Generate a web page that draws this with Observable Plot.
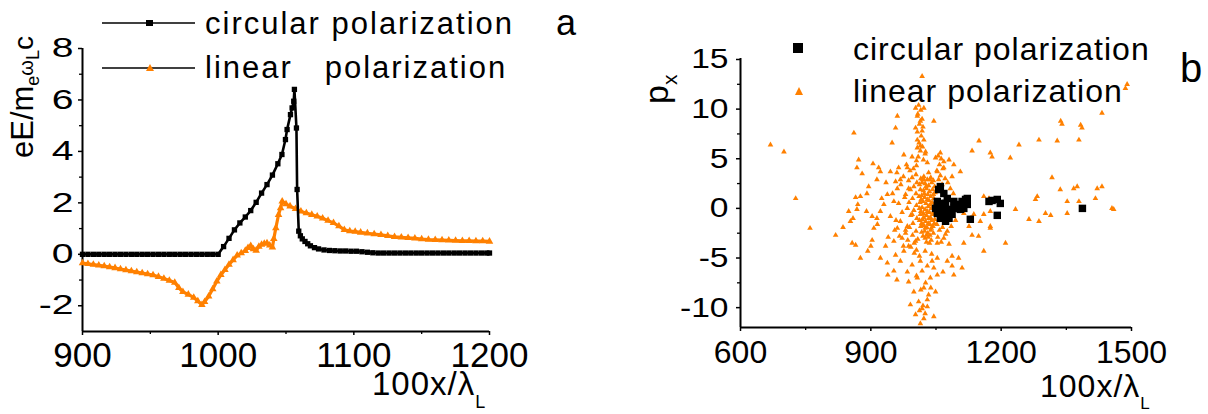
<!DOCTYPE html>
<html>
<head>
<meta charset="utf-8">
<script src="https://cdn.jsdelivr.net/npm/d3@7"></script>
<script src="https://cdn.jsdelivr.net/npm/@observablehq/plot@0.6"></script>
<style>
  body { margin: 0; background: #fff; }
  #wrap { position: relative; width: 1208px; height: 414px; overflow: hidden; font-family: "Liberation Sans", Arial, sans-serif; }
  #wrap svg.pl { position: absolute; top: 0; }
  #ann { position: absolute; left: 0; top: 0; pointer-events: none; }
</style>
</head>
<body>
<div id="wrap"></div>
<script>
// ---------- Panel a: field profiles ----------
const leftXDomain = [900, 1200];
const leftYDomain = [-3, 8];
const leftXTicks = [900, 1000, 1100, 1200];
const leftXMinor = [950, 1050, 1150];
const leftYTicks = [-2, 0, 2, 4, 6, 8];
const leftYMinor = [-1, 1, 3, 5, 7];

const circX = [900,904,908,912,916,920,924,928,932,936,940,944,948,952,956,960,964,968,972,976,980,984,988,992,996,1000,
  1004,1008,1012,1016,1020,1024,1028,1032,1036,1040,1044,1047,1049.6,1050.8,1053.3,1054.5,1055.7,1056.2,1057.7,1058.2,1059.4,1060.6,
  1062,1064,1066,1068,1071,1074,1078,1082,1086,1090,1094,1098,1102,1106,1110,1114,1118,
  1122,1126,1130,1134,1138,1142,1146,1150,1154,1158,1162,1166,1170,1174,1178,1182,1186,1190,1194,1198,1200];
const circY = [0,0,0,0,0,0,0,0,0,0,0,0,0,0,0,0,0,0,0,0,0,0,0,0,0,0,
  0.3,0.62,0.95,1.22,1.45,1.7,2.02,2.38,2.71,3.08,3.52,3.88,4.46,4.85,5.43,5.69,5.95,6.41,4.91,2.52,0.9,0.72,
  0.6,0.5,0.41,0.33,0.26,0.21,0.17,0.15,0.14,0.13,0.13,0.12,0.12,0.1,0.08,0.06,0.05,
  0.05,0.05,0.05,0.05,0.05,0.05,0.05,0.05,0.05,0.05,0.05,0.05,0.05,0.05,0.05,0.05,0.05,0.05,0.05,0.05,0.05];

const linX = [900,904,908,912,916,920,924,928,932,936,940,944,948,952,956,960,964,968,971,974,978,982,985,988,990,993,996,999,
  1002,1005,1008,1011,1014,1017,1020,1022,1024,1026,1028,1030,1032,1034,1036,1038,1040,1041,1042.5,1044.5,1046,1047.2,
  1050,1053,1057,1061,1065,1069,1073,1077,1081,1085,1089,1093,1097,1101,1105,1110,1115,1120,1125,1130,1135,1140,1145,1150,
  1155,1160,1165,1170,1175,1180,1185,1190,1195,1200];
const linY = [-0.34,-0.37,-0.4,-0.43,-0.46,-0.5,-0.53,-0.57,-0.61,-0.65,-0.69,-0.73,-0.77,-0.81,-0.87,-0.94,-1.02,-1.1,-1.3,-1.46,-1.56,-1.68,-1.82,-1.96,-1.85,-1.63,-1.35,-1.05,
  -0.8,-0.6,-0.4,-0.22,-0.04,0.05,0.14,0.25,0.33,0.2,0.15,0.3,0.38,0.42,0.44,0.35,0.27,0.6,1.02,1.54,1.8,2.06,
  1.95,1.87,1.77,1.67,1.6,1.54,1.48,1.4,1.31,1.22,1.1,0.95,0.9,0.88,0.85,0.82,0.79,0.76,0.72,0.68,0.66,0.64,0.62,0.59,
  0.57,0.56,0.55,0.54,0.53,0.52,0.52,0.51,0.51,0.5];

// ---------- Panel b: phase space scatter ----------
const rightXDomain = [600, 1500];
const rightYDomain = [-12, 15.1];
const rightXTicks = [600, 900, 1200, 1500];
const rightXMinor = [750, 1050, 1350];
const rightYTicks = [-10, -5, 0, 5, 10, 15];
const rightYMinor = [-7.5, -2.5, 2.5, 7.5, 12.5];

const scatterLinear = [
  [734,11.6],[700,5.7],[669,6.4],[727,1.0],[760,-2.0],[861,7.6],[872,4.9],[868,4.1],[865,1.1],[819,-2.7],[836,-1.9],[853,-1.3],
  [849,-0.3],[859,-1.0],[857,-3.5],[865,-3.7],[876,-5.0],[893,-4.3],[903,-3.2],[907,-2.0],[922,-0.3],[934,-3.8],[922,-5.0],
  [938,-5.5],[953,-6.3],[939,-6.7],[960,-7.2],[984,-6.4],[987,-7.4],[999,-8.4],[1010,-9.4],[1018,-10.1],[1030,-9.9],[1022,-11.1],
  [1014,-11.6],[991,-9.7],[1003,-10.7],[1045,-10.9],[1033,-8.7],[1049,-8.4],[1022,-8.0],[1007,-7.0],[1037,-7.0],[1053,-6.7],
  [1066,-6.4],[1087,-5.8],[1091,-6.7],[1110,-6.0],[1102,-5.0],[1087,-4.8],[1076,-5.3],[1053,-5.0],[1041,-5.3],[1014,-5.3],
  [995,-5.7],[968,-5.3],[957,-4.7],[976,-4.3],[953,-3.3],[972,-3.0],[987,-3.8],[980,-2.5],[1003,-3.3],[1053,-3.5],[1068,-3.0],
  [1114,-3.5],[1133,-2.7],[1148,-2.8],[1160,-4.3],[1175,-2.0],[1114,-0.5],[1129,-1.0],[1076,-2.3],[1126,-1.8],[1137,-0.6],
  [1018,13.3],[1003,10.1],[1007,9.3],[1014,8.8],[1003,8.1],[1018,7.8],[1007,6.9],[1014,6.3],[1007,6.1],[1026,5.7],[961,9.3],
  [957,8.1],[949,6.6],[976,5.4],[1045,8.8],[1022,10.1],[995,5.2],[1049,5.1],[1060,5.6],[1068,4.7],[1080,4.9],[1091,4.4],
  [1106,3.7],[1087,3.2],[1068,4.1],[1053,3.7],[1033,3.6],[1022,2.9],[984,4.1],[964,4.1],[945,3.7],[918,4.1],[914,2.9],[922,3.7],
  [876,1.2],[891,1.5],[868,-0.1],[903,-0.8],[914,-1.0],[938,1.4],[930,0.4],[953,0.7],[961,2.0],[968,2.9],[957,2.7],[980,1.4],
  [984,0.0],[987,2.0],[995,-0.6],[968,-1.3],[961,-2.0],[984,-1.8],
  [1133,5.8],[1149,6.8],[1179,5.2],[1175,5.6],[1221,5.1],[1241,6.4],[1287,6.9],[1329,6.8],[1337,8.8],[1340,8.5],[1379,6.9],
  [1383,8.4],[1386,8.1],[1432,9.6],[1490,12.5],[1486,12.1],[1317,3.1],[1336,1.9],[1367,2.0],[1375,2.2],[1421,2.0],[1432,2.2],
  [1283,1.2],[1279,0.9],[1352,0.7],[1379,0.7],[1417,1.0],[1455,0.0],[1459,-0.1],[1233,-0.1],[1264,-1.1],[1287,-1.3],[1302,-0.5],
  [1314,-0.7],[1352,-0.5],[1160,1.2],[1172,1.0],[1175,-0.3],[1152,-1.3],[1175,-1.8],[1210,-3.5],[1160,-0.6],
  [1015,3.0],[1022,3.2],[1030,2.9],[1038,3.1],[1044,2.8],[1012,2.4],[1018,2.6],[1025,2.5],[1033,2.3],[1040,2.6],[1047,2.2],
  [1014,1.9],[1021,1.8],[1028,2.0],[1035,1.7],[1042,1.9],[1048,1.6],[1011,1.2],[1017,1.3],[1024,1.1],[1031,1.4],[1038,1.2],
  [1045,1.0],[1013,0.6],[1020,0.7],[1027,0.5],[1034,0.8],[1041,0.6],[1047,0.4],[1012,0.0],[1018,0.1],[1025,-0.1],[1032,0.2],
  [1039,0.0],[1046,-0.2],[1014,-0.6],[1021,-0.5],[1028,-0.7],[1035,-0.4],[1042,-0.6],[1012,-1.2],[1019,-1.1],[1026,-1.3],
  [1033,-1.0],[1040,-1.2],[1047,-1.1],[1015,-1.8],[1022,-1.7],[1029,-1.9],[1036,-1.6],[1043,-1.8],[1017,-2.4],[1024,-2.3],
  [1031,-2.5],[1038,-2.2],[1044,-2.5],[1025,-3.0],[1032,-2.9],[1039,-3.2],[1035,-3.5],[1028,-3.4],
  [1019,2.9],[1027,2.2],[1036,2.9],[1016,0.9],[1023,1.5],[1030,0.9],[1037,0.4],[1044,1.4],[1015,-0.3],[1022,-0.9],[1030,-0.3],
  [1037,-0.9],[1044,-0.4],[1017,-1.5],[1025,-2.0],[1032,-1.5],[1039,-2.0],[1046,-1.5],[1020,-2.8],[1028,-2.7],[1036,-2.7],
  [1005,4.3],[998,4.0],[990,3.8],[1004,3.4],[995,3.1],[987,2.8],[1006,2.6],[999,2.2],[991,1.9],[1004,1.5],[996,1.0],[988,0.6],
  [1005,0.3],[999,-0.2],[992,-0.7],[1006,-1.0],[997,-1.5],[989,-1.9],[1004,-2.3],[996,-2.7],[1008,-3.1],[1000,-3.5],[992,-3.9],
  [1005,-4.2],[975,3.2],[969,2.4],[978,1.1],[964,0.5],[972,-0.4],[958,-1.2],[980,-2.2],[966,-2.8],[985,-3.2],[975,-3.8],
  [950,1.5],[945,-0.8],[960,3.6],[982,4.4],[955,-2.2],
  [1010,10.4],[1015,9.9],[1008,9.5],[1018,9.0],[1012,8.5],[1020,8.2],[1007,7.7],[1016,7.3],[1022,6.9],[1011,6.6],[1019,6.2],
  [1014,5.8],[1025,5.5],[1009,5.2],[1021,4.9],[1030,4.6],[1005,4.8],
  [1055,5.3],[1062,5.0],[1058,4.4],[1066,4.0],[1052,3.8],[1060,3.3],[1071,3.0],[1056,2.9],[1077,2.6],[1064,2.4],[1083,2.0],
  [1052,-1.6],[1058,-2.2],[1065,-1.9],[1072,-2.6],[1054,-2.9],[1080,-3.6],[1062,-3.4],[1090,1.5],[1085,-1.8],[1095,-1.2],
  [1000,-4.5],[1012,-4.8],[1025,-4.3],[1040,-4.6],[1030,-5.8],[1018,-6.3],[1045,-6.0],[1005,-6.8],[1026,-7.5],[1015,-8.2],
  [1038,-8.0],[1030,-9.2],[1020,-9.8],[1012,-10.3],[1025,-10.6],
  [880,3.5],[895,2.2],[905,4.5],[925,1.0],[935,2.6],[870,0.4],[890,-0.3],[915,-1.6],[940,-2.9],[900,-3.8]
];

const scatterCircular = [
  [1060,2.2],[1056,1.9],[1068,1.5],[1053,0.7],[1060,0.0],[1049,0.0],[1072,0.5],[1076,-0.1],[1083,-0.5],[1068,-0.6],
  [1080,-1.0],[1060,-1.0],[1072,-1.3],[1064,0.5],[1053,-0.5],[1091,0.7],[1091,0.0],[1099,0.4],[1110,0.7],[1118,0.9],
  [1122,0.4],[1114,0.0],[1122,1.0],[1106,-0.1],[1129,-1.1],[1172,0.7],[1179,0.8],[1191,0.9],[1198,0.5],[1191,-0.7],
  [1387,0.0],[1087,-0.6],[1076,1.0]
];

const ORANGE = "#ff8000";
const FONT = "'Liberation Sans', Arial, sans-serif";
const fmt = d => String(d);

const circular = circX.map((x, i) => ({x, y: circY[i]}));
const linear = linX.map((x, i) => ({x, y: linY[i]}));
const scatL = scatterLinear.map(([x, y]) => ({x, y}));
const scatC = scatterCircular.map(([x, y]) => ({x, y}));

// widen the y tick labels (the source figure's digits are horizontally stretched)
function stretchYLabels(svg, s, frameLeft) {
  const sr = svg.getBoundingClientRect();
  svg.querySelectorAll("text").forEach(el => {
    const r = el.getBoundingClientRect();
    if (r.width > 0 && r.right - sr.left < frameLeft - 1) {
      const b = el.getBBox();
      const bx = b.x + b.width;
      const t = el.getAttribute("transform") || "";
      el.setAttribute("transform", `${t} translate(${bx},0) scale(${s},1) translate(${-bx},0)`);
    }
  });
}

const left = Plot.plot({
  width: 604, height: 414,
  marginLeft: 82, marginRight: 115, marginTop: 48, marginBottom: 83,
  x: {domain: leftXDomain},
  y: {domain: leftYDomain},
  style: {fontFamily: FONT, color: "black", background: "transparent", overflow: "visible"},
  marks: [
    Plot.axisX({ticks: leftXTicks, tickFormat: fmt, tickSize: 4, tickPadding: 7, fontSize: 35, strokeWidth: 1.5, label: null}),
    Plot.axisX({ticks: leftXMinor, tickSize: 3, strokeWidth: 1.3, fill: "none", label: null}),
    Plot.axisY({ticks: leftYTicks, tickFormat: fmt, tickSize: 4, tickPadding: 5, fontSize: 27, strokeWidth: 1.5, label: null}),
    Plot.axisY({ticks: leftYMinor, tickSize: 3, strokeWidth: 1.3, fill: "none", label: null}),
    Plot.ruleX([leftXDomain[0]], {strokeWidth: 2}),
    Plot.ruleY([leftYDomain[0]], {strokeWidth: 2}),
    Plot.line(linear, {x: "x", y: "y", stroke: ORANGE, strokeWidth: 3.2}),
    Plot.dot(linear, {x: "x", y: "y", symbol: "triangle", r: 2.8, fill: ORANGE}),
    Plot.line(circular, {x: "x", y: "y", stroke: "black", strokeWidth: 2.6}),
    Plot.dot(circular, {x: "x", y: "y", symbol: "square", r: 3, fill: "black"})
  ]
});
left.classList.add("pl");
left.style.left = "0px";

const right = Plot.plot({
  width: 604, height: 414,
  marginLeft: 136, marginRight: 77, marginTop: 58, marginBottom: 87,
  x: {domain: rightXDomain},
  y: {domain: rightYDomain},
  style: {fontFamily: FONT, color: "black", background: "transparent", overflow: "visible"},
  marks: [
    Plot.axisX({ticks: rightXTicks, tickFormat: fmt, tickSize: 4, tickPadding: 9, fontSize: 32, strokeWidth: 1.5, label: null}),
    Plot.axisX({ticks: rightXMinor, tickSize: 3, strokeWidth: 1.3, fill: "none", label: null}),
    Plot.axisY({ticks: rightYTicks, tickFormat: fmt, tickSize: 4, tickPadding: 8, fontSize: 28, strokeWidth: 1.5, label: null}),
    Plot.axisY({ticks: rightYMinor, tickSize: 3, strokeWidth: 1.3, fill: "none", label: null}),
    Plot.ruleX([rightXDomain[0]], {strokeWidth: 2}),
    Plot.ruleY([rightYDomain[0]], {strokeWidth: 2}),
    Plot.dot(scatL, {x: "x", y: "y", symbol: "triangle", r: 2.1, fill: ORANGE}),
    Plot.dot(scatC, {x: "x", y: "y", symbol: "square", r: 4.2, fill: "black"})
  ]
});
right.classList.add("pl");
right.style.left = "604px";

const wrap = document.getElementById("wrap");
wrap.appendChild(left);
wrap.appendChild(right);
stretchYLabels(left, 1.45, 82);
stretchYLabels(right, 1.2, 136);

// ---------- Annotations: legends, panel letters, axis titles ----------
const ann = `
<svg id="ann" width="1208" height="414" xmlns="http://www.w3.org/2000/svg" font-family="${FONT}" fill="black">
  <line x1="102" y1="23" x2="195" y2="23" stroke="black" stroke-width="1.4"/>
  <rect x="146" y="20" width="7" height="6" fill="black"/>
  <text x="205" y="34" font-size="31" letter-spacing="2">circular polarization</text>
  <line x1="102" y1="68" x2="195" y2="68" stroke="black" stroke-width="1.4"/>
  <path d="M150,64 L154,71 L146,71 Z" fill="${ORANGE}"/>
  <text x="205" y="78" font-size="31" letter-spacing="2" style="white-space:pre">linear   polarization</text>
  <text x="556" y="35" font-size="36">a</text>

  <rect x="793" y="43" width="10" height="10" fill="black"/>
  <text x="853" y="60" font-size="32" letter-spacing="1">circular polarization</text>
  <path d="M799,87 L803,95 L795,95 Z" fill="${ORANGE}"/>
  <text x="853" y="102" font-size="32" letter-spacing="1">linear polarization</text>
  <text x="1180" y="82" font-size="40">b</text>

  <text transform="translate(33,158) rotate(-90)" font-size="31">eE/m<tspan font-size="18" dy="6">e</tspan><tspan font-size="20" dy="-6">ω</tspan><tspan font-size="18" dy="6">L</tspan><tspan font-size="28" dy="-6">c</tspan></text>
  <text transform="translate(668,104) rotate(-90)" font-size="34">p<tspan font-size="21" dy="9">x</tspan></text>

  <text x="372" y="395" font-size="33" letter-spacing="1">100x/λ<tspan font-size="18" dy="13">L</tspan></text>
  <text x="1040" y="397" font-size="32" letter-spacing="1">100x/λ<tspan font-size="17" dy="12">L</tspan></text>
</svg>`;
wrap.insertAdjacentHTML("beforeend", ann);
</script>
</body>
</html>
